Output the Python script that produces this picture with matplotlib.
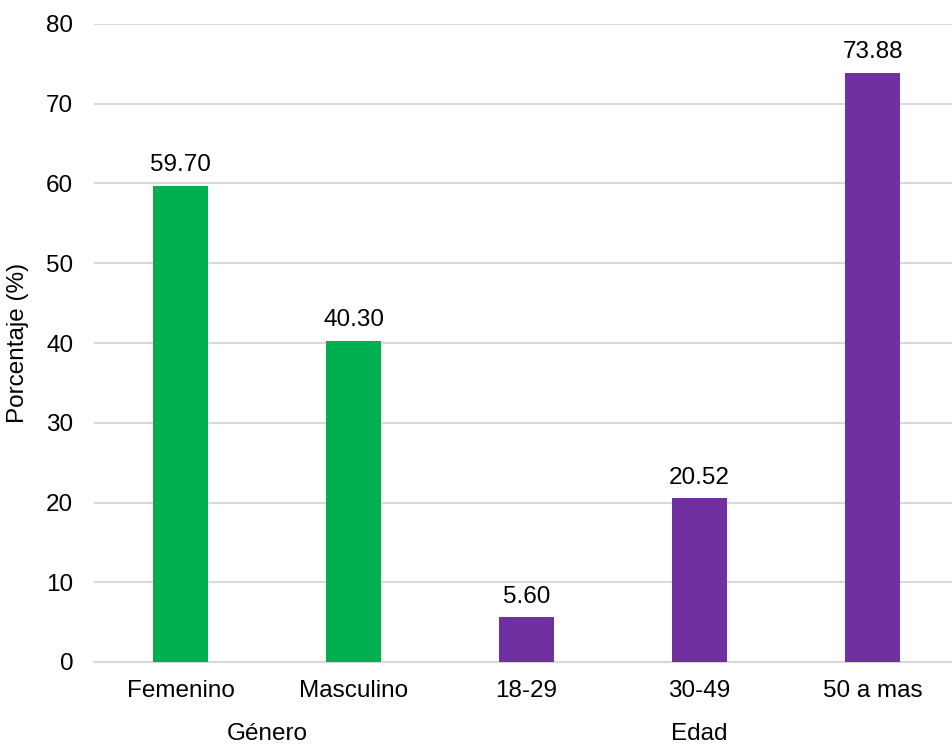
import matplotlib.pyplot as plt

plt.rcParams['font.family'] = ['Liberation Sans', 'DejaVu Sans']

categories = ["Femenino", "Masculino", "18-29", "30-49", "50 a mas"]
values = [59.70, 40.30, 5.60, 20.52, 73.88]
groups = ["Género", "Género", "Edad", "Edad", "Edad"]
group_names = ["Género", "Edad"]
colors = {"Género": "#00B050", "Edad": "#7030A0"}
y_ticks = [0, 10, 20, 30, 40, 50, 60, 70, 80]

FS = 17.5
W, H = 953, 747
fig = plt.figure(figsize=(W / 100, H / 100), dpi=100)
ax = fig.add_axes([94 / W, 1 - 662 / H, 865 / W, (662 - 24) / H])

x = list(range(len(categories)))
bars = ax.bar(x, values, width=0.32, color=[colors[g] for g in groups], zorder=3)
for xi, v in zip(x, values):
    ax.annotate(f"{v:.2f}", (xi, v), xytext=(0, 7), textcoords="offset points",
                ha="center", va="bottom", fontsize=FS, color="#000000")

ax.set_xlim(-0.5, len(categories) - 0.5)
ax.set_ylim(0, 80)
ax.set_yticks(y_ticks)
ax.set_yticklabels([str(t) for t in y_ticks], fontsize=FS)
ax.set_xticks(x)
ax.set_xticklabels(categories, fontsize=FS)
ax.tick_params(axis="both", length=0, colors="#000000")
ax.tick_params(axis="x", pad=13)
ax.tick_params(axis="y", pad=15)
ax.grid(axis="y", color="#D9D9D9", linewidth=1.5, zorder=0)
for side in ["left", "right", "top"]:
    ax.spines[side].set_visible(False)
ax.spines["bottom"].set_color("#D9D9D9")
ax.spines["bottom"].set_linewidth(1.5)

ax.set_ylabel("Porcentaje (%)", fontsize=FS, labelpad=12)

# group labels centred under their categories
for name in group_names:
    idx = [i for i, g in enumerate(groups) if g == name]
    cx = sum(idx) / len(idx)
    ax.annotate(name, (cx, 0), xycoords=("data", "axes fraction"),
                xytext=(0, -72), textcoords="offset pixels",
                ha="center", va="center", fontsize=FS)

fig.savefig("out.png", dpi=100)
